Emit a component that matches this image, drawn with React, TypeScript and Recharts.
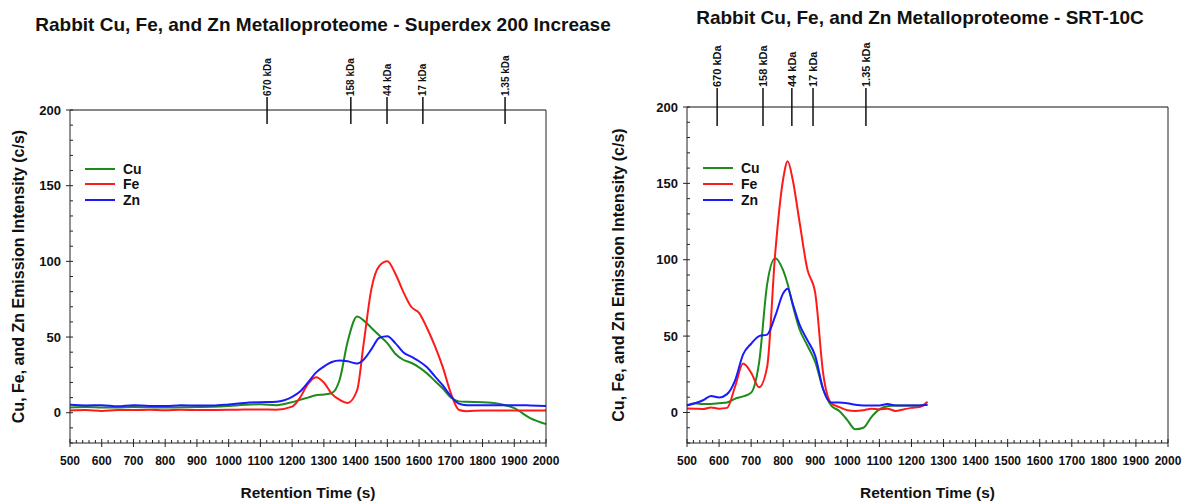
import React from 'react'
import { LineChart, Line, XAxis, YAxis, Legend } from 'recharts'

const FONT = '"Liberation Sans", Arial, Helvetica, sans-serif'

// Superdex 200 Increase run
const sdRetention = [
  500, 550, 600, 650, 700, 750, 800, 850, 900, 950, 1000, 1050, 1100, 1150, 1200, 1225, 1250, 1275,
  1300, 1325, 1350, 1375, 1405, 1425, 1450, 1475, 1500, 1525, 1550, 1575, 1600, 1625, 1650, 1675,
  1700, 1725, 1750, 1800, 1850, 1900, 1950, 2000,
]
const sdCu = [
  3.5, 3.8, 3.5, 3.4, 3.8, 3.6, 3.4, 3.6, 3.8, 4, 4.5, 5.2, 5.6, 5, 7, 8.5, 10, 11.5,
  12, 13, 22, 47, 63.5, 61, 56, 51, 46, 39, 35, 33, 30, 26, 21, 16,
  10, 7.5, 7.2, 7, 6, 3, -3.5, -7.5,
]
const sdFe = [
  1.5, 1.8, 1.2, 1.8, 1.8, 1.9, 1.6, 1.9, 1.8, 1.8, 1.9, 2.1, 2.2, 2, 4, 10, 19, 23.5,
  20, 12.5, 8.5, 6.5, 15, 45, 82, 97, 100, 92, 80, 70, 66, 56, 44, 30,
  13, 2, 1, 1.5, 1.5, 1.5, 1.5, 1.5,
]
const sdZn = [
  5.2, 4.8, 5, 4.3, 5, 4.4, 4.4, 4.9, 4.8, 4.8, 5.5, 6.5, 7, 7.3, 10.5, 14, 20, 26.5,
  30.5, 33.5, 34.5, 34, 32.5, 35, 42, 49.5, 50.5, 46, 40, 37, 34, 30, 24, 18,
  11, 6, 5, 5, 5, 5, 4.8, 4.5,
]

// SRT-10C run
const srtRetention = [
  500, 525, 550, 575, 600, 625, 650, 675, 700, 725, 750, 775, 800, 814, 830, 850, 875, 900, 925, 950,
  975, 1000, 1025, 1050, 1075, 1100, 1125, 1150, 1175, 1200, 1225, 1250,
]
const srtCu = [
  4.8, 6, 5.5, 5.5, 6, 6.5, 9, 10.5, 13, 33, 84, 101, 93, 84, 70, 55, 44, 33, 15, 4.5,
  1, -5, -11, -10, -3, 2, 4, 4.5, 4.5, 4.5, 4.5, 5,
]
const srtFe = [
  2.6, 2.5, 2.2, 3.3, 2.5, 3, 17, 32, 26, 16.5, 30, 104, 153, 164.5, 152, 126, 94, 78, 25, 6,
  3.5, 1.5, 1, 1.5, 2.5, 2, 2.5, 1, 2, 3, 3.5, 7,
]
const srtZn = [
  4.5, 6, 8, 10.8, 9.8, 12, 21, 38, 45, 50, 51, 63, 78, 81, 71, 58, 47.5, 37, 15, 6.5,
  6.5, 6, 5, 4.5, 4.5, 4.5, 5.5, 4.5, 4.5, 4.5, 4.5, 5,
]

const markerLabels = ['670 kDa', '158 kDa', '44 kDa', '17 kDa', '1.35 kDa']
const sdMarkers = [1121, 1385, 1499, 1612, 1871]
const srtMarkers = [594, 737, 827, 893, 1058]

const xTicks: number[] = []
for (let t = 500; t <= 2000; t += 20) xTicks.push(t)
const yTicks: number[] = []
for (let v = -20; v <= 200; v += 10) yTicks.push(v)

const COLORS = { Cu: '#1c8c1c', Fe: '#ff1a1a', Zn: '#1a1aff' }

function toRows(rt: number[], cu: number[], fe: number[], zn: number[]) {
  return rt.map((t, i) => ({ t, Cu: cu[i], Fe: fe[i], Zn: zn[i] }))
}

const BottomTick = (props: any) => {
  const { x, y, payload } = props
  const v = payload.value
  const major = v % 100 === 0
  return (
    <g>
      <line x1={x} x2={x} y1={y - (major ? 4 : 3)} y2={y + (major ? 4 : 0)} stroke="#222" />
      {major && (
        <text x={x} y={y + 22} textAnchor="middle" fontSize={12} fontWeight="bold" fill="#111" fontFamily={FONT}>
          {v}
        </text>
      )}
    </g>
  )
}

const LeftTick = (props: any) => {
  const { x, y, payload } = props
  const v = payload.value
  const major = v % 50 === 0
  return (
    <g>
      <line x1={x - (major ? 4 : 0)} x2={x + 3} y1={y} y2={y} stroke="#222" />
      {major && (
        <text x={x - 9} y={y + 4.5} textAnchor="end" fontSize={13} fontWeight="bold" fill="#111" fontFamily={FONT}>
          {v}
        </text>
      )}
    </g>
  )
}

const makeTopTick = (up: number, down: number, fs: number) => (props: any) => {
  const { x, y, index } = props
  return (
    <g>
      <line x1={x} x2={x} y1={y - up} y2={y + down} stroke="#111" strokeWidth={1.5} />
      <text
        x={x + fs * 0.35}
        y={y - up - 1}
        transform={`rotate(-90, ${x + fs * 0.35}, ${y - up - 1})`}
        textAnchor="start"
        fontSize={fs}
        fontWeight="bold"
        fill="#111"
        fontFamily={FONT}
      >
        {markerLabels[index]}
      </text>
    </g>
  )
}

const renderLegend = (rowH: number) => (props: any) => {
  const { payload } = props
  return (
    <div style={{ fontFamily: FONT }}>
      {payload.map((p: any) => (
        <div key={p.value} style={{ display: 'flex', alignItems: 'center', height: rowH }}>
          <svg width={30} height={4} style={{ display: 'block' }}>
            <line x1={0} x2={30} y1={2} y2={2} stroke={p.color} strokeWidth={2} />
          </svg>
          <span style={{ marginLeft: 8, fontSize: 14, fontWeight: 'bold', color: '#111' }}>{p.value}</span>
        </div>
      ))}
    </div>
  )
}

type PanelProps = {
  rows: any[]
  markers: number[]
  width: number
  top: number
  yAxisW: number
  rightMargin: number
  tickUp: number
  tickDown: number
  tickFont: number
  legendLeft: number
  legendTop: number
  legendRow: number
}

function Panel(p: PanelProps) {
  return (
    <LineChart
      width={p.width}
      height={501}
      data={p.rows}
      margin={{ top: p.top - 50, right: p.rightMargin, bottom: 0, left: 0 }}
      style={{ fontFamily: FONT }}
    >
      <XAxis
        xAxisId="top"
        orientation="top"
        type="number"
        dataKey="t"
        domain={[500, 2000]}
        ticks={p.markers}
        interval={0}
        height={50}
        tickSize={0}
        tickMargin={0}
        tickLine={false}
        axisLine={{ stroke: '#111' }}
        tick={makeTopTick(p.tickUp, p.tickDown, p.tickFont)}
      />
      <XAxis
        xAxisId="bottom"
        type="number"
        dataKey="t"
        domain={[500, 2000]}
        ticks={xTicks}
        interval={0}
        height={58}
        tickSize={0}
        tickMargin={0}
        tickLine={false}
        axisLine={{ stroke: '#222' }}
        tick={<BottomTick />}
        label={{
          value: 'Retention Time (s)',
          position: 'insideBottom',
          offset: 3,
          style: { fontSize: 15.5, fontWeight: 'bold', fill: '#111', fontFamily: FONT },
        }}
      />
      <YAxis
        yAxisId="left"
        type="number"
        domain={[-20, 200]}
        ticks={yTicks}
        interval={0}
        width={p.yAxisW}
        tickSize={0}
        tickMargin={0}
        tickLine={false}
        axisLine={{ stroke: '#222' }}
        tick={<LeftTick />}
        label={{
          value: 'Cu, Fe, and Zn Emission Intensity (c/s)',
          angle: -90,
          position: 'center',
          dx: -p.yAxisW / 2 + 18,
          style: { fontSize: 16, fontWeight: 'bold', fill: '#111', fontFamily: FONT },
        }}
      />
      <YAxis
        yAxisId="right"
        orientation="right"
        type="number"
        domain={[-20, 200]}
        width={1}
        tick={false}
        tickLine={false}
        axisLine={{ stroke: '#222' }}
      />
      <Legend
        layout="vertical"
        align="center"
        verticalAlign="middle"
        content={renderLegend(p.legendRow)}
        wrapperStyle={{ left: p.legendLeft, top: p.legendTop, width: 'auto' }}
      />
      {(['Cu', 'Fe', 'Zn'] as const).map((k) => (
        <Line
          key={k}
          xAxisId="bottom"
          yAxisId="left"
          type="monotone"
          dataKey={k}
          name={k}
          stroke={COLORS[k]}
          strokeWidth={2}
          dot={false}
          isAnimationActive={false}
        />
      ))}
    </LineChart>
  )
}

export default function App() {
  const sdRows = toRows(sdRetention, sdCu, sdFe, sdZn)
  const srtRows = toRows(srtRetention, srtCu, srtFe, srtZn)
  const titleStyle: React.CSSProperties = {
    position: 'absolute',
    fontFamily: FONT,
    fontWeight: 'bold',
    fontSize: 19,
    color: '#111',
    whiteSpace: 'nowrap',
    transform: 'translate(-50%, -50%)',
  }
  return (
    <div style={{ position: 'absolute', left: 0, top: 0, width: 1183, height: 501, background: '#fff', overflow: 'hidden' }}>
      <div style={{ position: 'absolute', left: 0, top: 0 }}>
        <Panel
          rows={sdRows}
          markers={sdMarkers}
          width={590}
          top={110}
          yAxisW={70}
          rightMargin={43}
          tickUp={13}
          tickDown={14}
          tickFont={10}
          legendLeft={85}
          legendTop={161}
          legendRow={15.5}
        />
      </div>
      <div style={{ position: 'absolute', left: 600, top: 0 }}>
        <Panel
          rows={srtRows}
          markers={srtMarkers}
          width={583}
          top={107}
          yAxisW={87}
          rightMargin={14}
          tickUp={19}
          tickDown={19}
          tickFont={11}
          legendLeft={103}
          legendTop={160}
          legendRow={16}
        />
      </div>
      <div style={{ ...titleStyle, left: 323, top: 25 }}>Rabbit Cu, Fe, and Zn Metalloproteome - Superdex 200 Increase</div>
      <div style={{ ...titleStyle, left: 920, top: 18 }}>Rabbit Cu, Fe, and Zn Metalloproteome - SRT-10C</div>
    </div>
  )
}
